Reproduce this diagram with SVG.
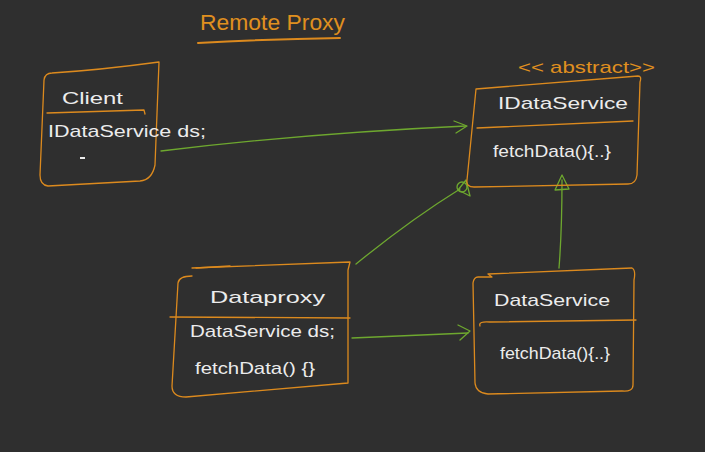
<svg xmlns="http://www.w3.org/2000/svg" width="705" height="452" viewBox="0 0 705 452">
<style>
.bx{fill:none;stroke:#dc8a1e;stroke-width:1.3;stroke-linecap:round;stroke-linejoin:round}
.ln{fill:none;stroke:#6ea82f;stroke-width:1.3;stroke-linecap:round;stroke-linejoin:round}
.t{font-family:"Liberation Sans",Arial,sans-serif;fill:#ececec;font-size:17px}
.o{font-family:"Liberation Sans",Arial,sans-serif;fill:#e0901f}
</style>
<rect width="705" height="452" fill="#2f2f2f"/>
<g id="title">
<text class="o" x="200" y="30" font-size="22" textLength="145" lengthAdjust="spacingAndGlyphs">Remote Proxy</text>
<path d="M198,43 Q270,39 340,38" stroke="#dc8a1e" stroke-width="2" fill="none" stroke-linecap="round"/>
</g>
<g id="connectors">
<path class="ln" d="M161,151 Q310,133 466,126"/>
<path class="ln" d="M454,121 L467,126 L456,133"/>
<path class="ln" d="M352,338 L468,333"/>
<path class="ln" d="M458,325 L470,331 L460,340"/>
<path class="ln" d="M356,264 Q410,220 460,189"/>
<path class="ln" d="M466,180 L470,196 L458,190 Z"/>
<circle class="ln" cx="462" cy="187" r="5"/>
<path class="ln" d="M559,268 Q562,230 562,180"/>
<path class="ln" d="M562,175 L555,190 L569,189 Z"/>
</g>
<g id="client">
<path class="bx" d="M52,73 Q100,70 159,62 L155,165 Q152,180 140,181 L48,186 Q40,185 40,175 L44,80 Q45,73 52,73 Z"/>
<path class="bx" d="M47,113 L144,110 L145,114"/>
<text class="t" x="62" y="104" font-size="25" textLength="61" lengthAdjust="spacingAndGlyphs">Client</text>
<text class="t" x="48" y="137" textLength="158" lengthAdjust="spacingAndGlyphs">IDataService  ds;</text>
<rect x="80" y="157" width="5" height="2" fill="#ececec"/>
</g>
<g id="idataservice">
<text class="o" x="518" y="73" font-size="17" textLength="137" lengthAdjust="spacingAndGlyphs">&lt;&lt; abstract&gt;&gt;</text>
<path class="bx" d="M476,89 L638,76 Q642,76 640,82 L637,175 Q636,184 628,184 L474,187 Q466,187 467,180 L476,89 Z"/>
<path class="bx" d="M477,128 L633,121"/>
<text class="t" x="498" y="109" textLength="130" lengthAdjust="spacingAndGlyphs">IDataService</text>
<text class="t" x="493" y="157" textLength="118" lengthAdjust="spacingAndGlyphs">fetchData(){..}</text>
</g>
<g id="dataproxy">
<path class="bx" d="M192,268 L350,262 L348,270 L348,383 L186,397 Q172,397 172,386 L178,283 Q179,276 192,276"/>
<path class="bx" d="M196,268 L230,266"/>
<path class="bx" d="M170,317 L350,318"/>
<text class="t" x="210" y="303" font-size="20" textLength="115" lengthAdjust="spacingAndGlyphs">Dataproxy</text>
<text class="t" x="190" y="337" textLength="145" lengthAdjust="spacingAndGlyphs">DataService ds;</text>
<text class="t" x="195" y="374" textLength="120" lengthAdjust="spacingAndGlyphs">fetchData() {}</text>
</g>
<g id="dataservice">
<path class="bx" d="M478,277 L492,277 L488,274 L632,268 Q636,270 634,280 L633,385 Q633,392 622,391 L488,394 Q476,393 475,383 L473,283 Q474,277 478,277 Z"/>
<path class="bx" d="M480,326 Q478,321 490,322 L636,320"/>
<text class="t" x="494" y="306" textLength="116" lengthAdjust="spacingAndGlyphs">DataService</text>
<text class="t" x="500" y="359" textLength="110" lengthAdjust="spacingAndGlyphs">fetchData(){..}</text>
</g>
</svg>
